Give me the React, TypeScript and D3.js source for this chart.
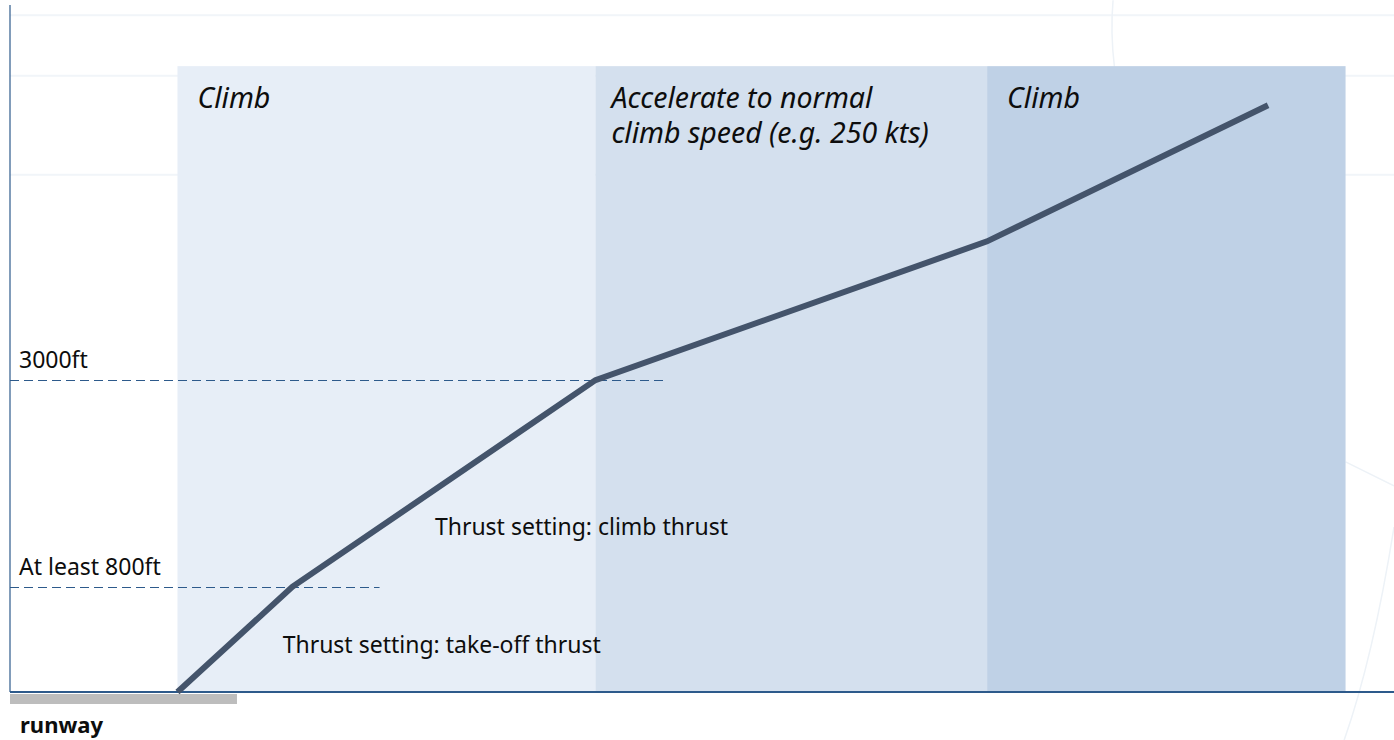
import { useEffect, useRef } from 'react';
import * as d3 from 'd3';

const W = 1394;
const H = 740;

// schematic units: distance 0–100 along the x axis, altitude 0–100 up the y axis
const phaseStarts = [12.1, 42.3, 70.6];
const phaseEnds = [42.3, 70.6, 96.5];
const phaseTop = 91.1;
const phaseLabels = [['Climb'], ['Accelerate to normal', 'climb speed (e.g. 250 kts)'], ['Climb']];
const phaseFills = ['#e7eef7', '#d4e0ee', '#bfd1e6'];

const pathDist = [12.1, 20.4, 42.3, 70.6, 90.9];
const pathAlt = [0, 15.3, 45.4, 65.6, 85.4];

const refAlts = [45.4, 15.3];
const refLabels = ['3000ft', 'At least 800ft'];
const refEnds = [47.3, 26.7];

const thrustLabels = ['Thrust setting: climb thrust', 'Thrust setting: take-off thrust'];
const thrustDist = [30.7, 19.7];
const thrustAlt = [22.85, 5.7];

const runwayEnd = 16.4;

// faint background guide lines
const guideAlts = [98.5, 89.7, 75.3];

export default function App() {
  const svgRef = useRef<SVGSVGElement>(null);

  useEffect(() => {
    document.body.style.margin = '0';
    if (!svgRef.current) return;
    const svg = d3.select(svgRef.current);
    svg.selectAll('*').remove();

    const x = d3.scaleLinear().domain([0, 100]).range([10, W]);
    const y = d3.scaleLinear().domain([0, 100]).range([692, 5]);
    const font = '"Noto Sans", "Open Sans", sans-serif';

    // ── Background guides ──────────────────────────────────────────────
    svg.append('g').selectAll('line').data(guideAlts).join('line')
      .attr('x1', x(0)).attr('x2', W)
      .attr('y1', d => y(d)).attr('y2', d => y(d))
      .attr('stroke', '#f1f5f9').attr('stroke-width', 2);

    const deco = svg.append('g').attr('fill', 'none').attr('stroke', '#edf2f7').attr('stroke-width', 1.5);
    deco.append('path').attr('d', `M${x(79.7)},${y(100.7)} Q${x(79.5)},${y(96)} ${x(79.8)},${y(91)}`);
    deco.append('path').attr('d', `M${x(96.5)},${y(33.5)} L${W},${y(30)}`);
    deco.append('path').attr('d', `M${W},${y(24)} Q${x(98.5)},${y(5)} ${x(96.4)},${y(-7)}`);

    // ── Phase bands ────────────────────────────────────────────────────
    svg.append('g').selectAll('rect').data(phaseStarts).join('rect')
      .attr('x', d => x(d))
      .attr('width', (d, i) => x(phaseEnds[i]) - x(d))
      .attr('y', y(phaseTop))
      .attr('height', y(0) - y(phaseTop))
      .attr('fill', (_, i) => phaseFills[i]);

    const pl = svg.append('g')
      .attr('font-family', font).attr('font-style', 'italic')
      .attr('font-size', 28.5).attr('fill', '#0d0d0d');
    phaseLabels.forEach((lines, i) => {
      lines.forEach((t, j) => {
        pl.append('text')
          .attr('x', x(phaseStarts[i]) + (i === 1 ? 16 : 20))
          .attr('y', 108 + j * 35)
          .text(t);
      });
    });

    // ── Axes ───────────────────────────────────────────────────────────
    svg.append('line')
      .attr('x1', x(0)).attr('x2', x(0)).attr('y1', y(100)).attr('y2', y(0))
      .attr('stroke', '#2d5a8b').attr('stroke-width', 1.2);
    svg.append('line')
      .attr('x1', x(0)).attr('x2', W).attr('y1', y(0)).attr('y2', y(0))
      .attr('stroke', '#2d5a8b').attr('stroke-width', 2);

    // runway
    svg.append('rect')
      .attr('x', x(0)).attr('width', x(runwayEnd) - x(0))
      .attr('y', y(0) + 2).attr('height', 10)
      .attr('fill', '#bdbdbd');
    svg.append('text')
      .attr('x', 20).attr('y', 733)
      .attr('font-family', font).attr('font-weight', 'bold').attr('font-size', 22)
      .attr('fill', '#0d0d0d').text('runway');

    // ── Reference altitudes ────────────────────────────────────────────
    const ref = svg.append('g');
    ref.selectAll('line').data(refAlts).join('line')
      .attr('x1', x(0)).attr('x2', (_, i) => x(refEnds[i]))
      .attr('y1', d => Math.round(y(d)) + 0.5).attr('y2', d => Math.round(y(d)) + 0.5)
      .attr('stroke', '#2d5a8b').attr('stroke-width', 1.2)
      .attr('stroke-dasharray', '9 5');
    ref.selectAll('text').data(refAlts).join('text')
      .attr('x', 19)
      .attr('y', d => y(d) - 12)
      .attr('font-family', font).attr('font-size', 23).attr('fill', '#0d0d0d')
      .text((_, i) => refLabels[i]);

    // ── Flight path ────────────────────────────────────────────────────
    const line = d3.line<number>()
      .x(d => x(d))
      .y((_, i) => y(pathAlt[i]));
    svg.append('path').datum(pathDist)
      .attr('fill', 'none').attr('stroke', '#44546b').attr('stroke-width', 6)
      .attr('stroke-linejoin', 'miter')
      .attr('d', line);

    // ── Thrust notes ───────────────────────────────────────────────────
    svg.append('g').selectAll('text').data(thrustLabels).join('text')
      .attr('x', (_, i) => x(thrustDist[i]))
      .attr('y', (_, i) => y(thrustAlt[i]))
      .attr('font-family', font).attr('font-size', 23).attr('fill', '#0d0d0d')
      .text(d => d);
  }, []);

  return (
    <div style={{ position: 'absolute', left: 0, top: 0 }}>
      <svg ref={svgRef} width={W} height={H} style={{ display: 'block', background: '#fff' }} />
    </div>
  );
}
